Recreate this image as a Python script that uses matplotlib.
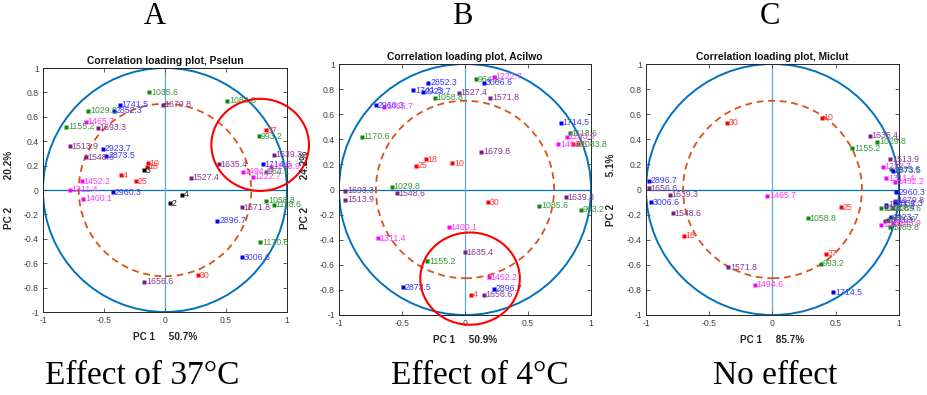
import matplotlib.pyplot as plt
from matplotlib.patches import Circle, Ellipse
from matplotlib.ticker import FixedLocator, FixedFormatter

plt.rcParams.update({
    'font.family': 'Liberation Sans',
    'axes.unicode_minus': False,
})

# --- Loadings (PC1, PC2) per variable; group: T temperature, K other, G/B/P/M wavenumber bands ---
labels_a = ['1035.6', '1679.8', '1741.5', '1029.8', '2852.3', '1083.8', '1465.7', '1155.2', '1693.3', '37',
            '993.2', '1513.9', '2923.7', '1639.3', '1548.6', '2873.5', '10', '18', '3', '1635.4',
            '1714.5', '1243.9', '964.1', '1494.6', '1222.7', '1527.4', '4', '25', '1452.2', '1311.4',
            '2960.3', '1400.1', '4', '2', '1058.8', '1118.6', '1571.8', '2896.7', '1170.6', '3006.6',
            '30', '1656.6']
pc1_a = [-0.13, -0.02, -0.37, -0.63, -0.42, 0.51, -0.65, -0.81, -0.55, 0.83,
         0.77, -0.78, -0.51, 0.89, -0.65, -0.48, -0.14, -0.15, -0.17, 0.44,
         0.80, 0.87, 0.83, 0.64, 0.72, 0.21, -0.36, -0.24, -0.68, -0.78,
         -0.43, -0.67, 0.14, 0.04, 0.83, 0.89, 0.63, 0.43, 0.78, 0.63,
         0.27, -0.17]
pc2_a = [0.80, 0.70, 0.70, 0.65, 0.65, 0.73, 0.56, 0.52, 0.51, 0.49,
         0.44, 0.36, 0.34, 0.29, 0.27, 0.28, 0.22, 0.19, 0.16, 0.21,
         0.21, 0.19, 0.15, 0.15, 0.11, 0.10, 0.12, 0.07, 0.07, 0.00,
         -0.02, -0.07, -0.04, -0.11, -0.09, -0.12, -0.14, -0.25, -0.43, -0.55,
         -0.70, -0.75]
group_a = ['G', 'P', 'B', 'G', 'B', 'G', 'M', 'G', 'P', 'T',
           'G', 'P', 'B', 'P', 'P', 'B', 'T', 'T', 'K', 'P',
           'B', 'M', 'G', 'M', 'M', 'P', 'T', 'T', 'M', 'M',
           'B', 'M', 'K', 'K', 'G', 'G', 'P', 'B', 'G', 'B',
           'T', 'P']

labels_b = ['964.1', '1222.7', '3006.6', '2852.3', '1741.5', '2923.7', '1527.4', '1058.8', '1571.8', '2960.3',
            '1465.7', '1714.5', '1118.6', '1243.9', '1494.6', '37', '1083.8', '1170.6', '1679.8', '18',
            '25', '10', '1029.8', '1693.3', '1548.6', '1513.9', '1639.3', '30', '1085.6', '993.2',
            '1400.1', '1311.4', '1635.4', '1155.2', '1452.2', '2873.5', '2896.7', '4', '1656.6']
pc1_b = [0.09, 0.23, 0.15, -0.29, -0.41, -0.33, -0.05, -0.24, 0.20, -0.71,
         -0.64, 0.76, 0.83, 0.81, 0.74, 0.86, 0.90, -0.82, 0.13, -0.31,
         -0.39, -0.10, -0.58, -0.95, -0.54, -0.95, 0.80, 0.18, 0.59, 0.92,
         -0.13, -0.69, 0.00, -0.30, 0.19, -0.49, 0.23, 0.05, 0.15]
pc2_b = [0.88, 0.90, 0.85, 0.85, 0.79, 0.78, 0.77, 0.73, 0.73, 0.67,
         0.66, 0.53, 0.45, 0.42, 0.36, 0.36, 0.36, 0.42, 0.30, 0.24,
         0.19, 0.21, 0.02, -0.01, -0.03, -0.08, -0.06, -0.10, -0.13, -0.16,
         -0.30, -0.39, -0.50, -0.57, -0.70, -0.78, -0.79, -0.84, -0.84]
group_b = ['G', 'M', 'B', 'B', 'B', 'B', 'P', 'G', 'P', 'B',
           'M', 'B', 'G', 'M', 'M', 'T', 'G', 'G', 'P', 'T',
           'T', 'T', 'G', 'P', 'P', 'P', 'P', 'T', 'G', 'G',
           'M', 'M', 'P', 'G', 'M', 'B', 'B', 'T', 'P']

labels_c = ['30', '10', '1635.4', '1029.8', '1155.2', '1513.9', '1222.7', '1035.6', '2873.5', '1311.4',
            '1452.2', '2896.7', '1656.6', '1639.3', '1465.7', '2960.3', '3006.6', '1679.8', '2852.3', '1741.5',
            '1118.6', '1527.4', '1085.6', '25', '2923.7', '1170.6', '1693.3', '1400.1', '1243.9', '1083.8',
            '1548.6', '1058.8', '18', '37', '993.2', '1571.8', '1494.6', '1714.5']
pc1_c = [-0.36, 0.39, 0.77, 0.83, 0.63, 0.93, 0.87, 0.94, 0.95, 0.90,
         0.97, -0.98, -0.98, -0.81, -0.04, 0.98, -0.96, 0.97, 0.97, 0.90,
         0.86, 0.90, 0.95, 0.54, 0.94, 0.91, 0.89, 0.86, 0.95, 0.93,
         -0.79, 0.28, -0.70, 0.42, 0.38, -0.35, -0.14, 0.48]
pc2_c = [0.53, 0.57, 0.43, 0.38, 0.33, 0.24, 0.18, 0.16, 0.15, 0.09,
         0.06, 0.07, 0.01, -0.04, -0.05, -0.02, -0.10, -0.09, -0.11, -0.12,
         -0.15, -0.14, -0.15, -0.14, -0.22, -0.24, -0.25, -0.28, -0.27, -0.30,
         -0.19, -0.23, -0.37, -0.51, -0.59, -0.62, -0.76, -0.82]
group_c = ['T', 'T', 'P', 'G', 'G', 'P', 'M', 'G', 'B', 'M',
           'M', 'B', 'P', 'P', 'M', 'B', 'B', 'P', 'B', 'B',
           'G', 'P', 'G', 'T', 'B', 'G', 'P', 'M', 'M', 'G',
           'P', 'G', 'T', 'T', 'G', 'P', 'M', 'B']

species = ['Pselun', 'Acilwo', 'Miclut']
pc1_var = ['50.7%', '50.9%', '85.7%']
pc2_var = ['20.2%', '24.2%', '5.1%']
panel_letters = ['A', 'B', 'C']
captions = ['Effect of 37\u00b0C', 'Effect of 4\u00b0C', 'No effect']

tick_vals_x = [-1, -0.5, 0, 0.5, 1]
tick_text_x = ['-1', '-0.5', '0', '0.5', '1']
tick_vals_y = [-1, -0.8, -0.6, -0.4, -0.2, 0, 0.2, 0.4, 0.6, 0.8, 1]
tick_text_y = ['-1', '-0.8', '-0.6', '-0.4', '-0.2', '0', '0.2', '0.4', '0.6', '0.8', '1']

marker_colors = {'T': '#ff0000', 'K': '#000000', 'G': '#0a8a0a', 'B': '#0000ff', 'P': '#7b1d84', 'M': '#ff00ff'}
text_colors = {'T': '#ff3b3b', 'K': '#222222', 'G': '#3a9a3a', 'B': '#3c3cff', 'P': '#8a3a92', 'M': '#ff3cff'}

fig = plt.figure(figsize=(9.28, 3.95), dpi=100)

# axes rectangles in figure fractions
rects = [
    [43 / 928, 83 / 395, 244 / 928, 244 / 395],
    [339 / 928, 80 / 395, 252 / 928, 251 / 395],
    [646 / 928, 80 / 395, 253 / 928, 251 / 395],
]
panels = [(labels_a, pc1_a, pc2_a, group_a),
          (labels_b, pc1_b, pc2_b, group_b),
          (labels_c, pc1_c, pc2_c, group_c)]

# red highlight rings (centre x, centre y, width, height) in data units
highlights = [(0.78, 0.37, 0.80, 0.755), (0.04, -0.71, 0.79, 0.735), None]

for i, (labels, xs, ys, groups) in enumerate(panels):
    ax = fig.add_axes(rects[i])
    ax.set_xlim(-1, 1)
    ax.set_ylim(-1, 1)

    ax.axhline(0, color='#0072BD', lw=0.9, zorder=1)
    ax.axvline(0, color='#5aa9dc', lw=0.9, zorder=1)
    ax.add_patch(Circle((0, 0), 1.0, fill=False, ec='#0072BD', lw=1.4, zorder=2))
    ax.add_patch(Circle((0, 0), 0.5 ** 0.5, fill=False, ec='#D95319', lw=1.3,
                        linestyle=(0, (3.8, 2.6)), zorder=2))

    for lab, x, y, g in zip(labels, xs, ys, groups):
        ax.plot(x, y, 's', ms=2.2, color=marker_colors[g], mec='none', zorder=3)
        ax.annotate(lab, (x, y), xytext=(1.2, 0), textcoords='offset points',
                    fontsize=6.3, color=text_colors[g], va='center', ha='left',
                    zorder=4, annotation_clip=False)

    if highlights[i] is not None:
        cx, cy, w, h = highlights[i]
        ax.add_patch(Ellipse((cx, cy), w, h, fill=False, ec='#ff0000', lw=1.5,
                             clip_on=False, zorder=6))

    ax.xaxis.set_major_locator(FixedLocator(tick_vals_x))
    ax.xaxis.set_major_formatter(FixedFormatter(tick_text_x))
    ax.yaxis.set_major_locator(FixedLocator(tick_vals_y))
    ax.yaxis.set_major_formatter(FixedFormatter(tick_text_y))
    ax.tick_params(direction='in', length=3, width=0.6, top=True, right=True,
                   labelsize=6.2, colors='#404040', pad=3)
    for sp in ax.spines.values():
        sp.set_color('#262626')
        sp.set_linewidth(0.7)

    ax.set_title(f'Correlation loading plot, {species[i]}', fontsize=7.4,
                 fontweight='bold', color='#111111', pad=3)
    ax.set_xlabel(f'PC 1     {pc1_var[i]}', fontsize=7.2, fontweight='bold', color='#262626')
    ax.xaxis.set_label_coords(0.5, -0.08)
    ax.set_ylabel(f'PC 2          {pc2_var[i]}', fontsize=7.2, fontweight='bold', color='#262626')
    ax.yaxis.set_label_coords(-0.117, 0.5)

# panel letters and captions
letter_x = [155, 462, 770]
caption_x = [142, 480, 775]
for i in range(3):
    fig.text(letter_x[i] / 928, 1 - 17 / 395, panel_letters[i], family='Liberation Serif',
             fontsize=22, ha='center', va='center')
    fig.text(caption_x[i] / 928, 1 - 376 / 395, captions[i], family='Liberation Serif',
             fontsize=24, ha='center', va='center')

fig.savefig('out.png', dpi=100)
